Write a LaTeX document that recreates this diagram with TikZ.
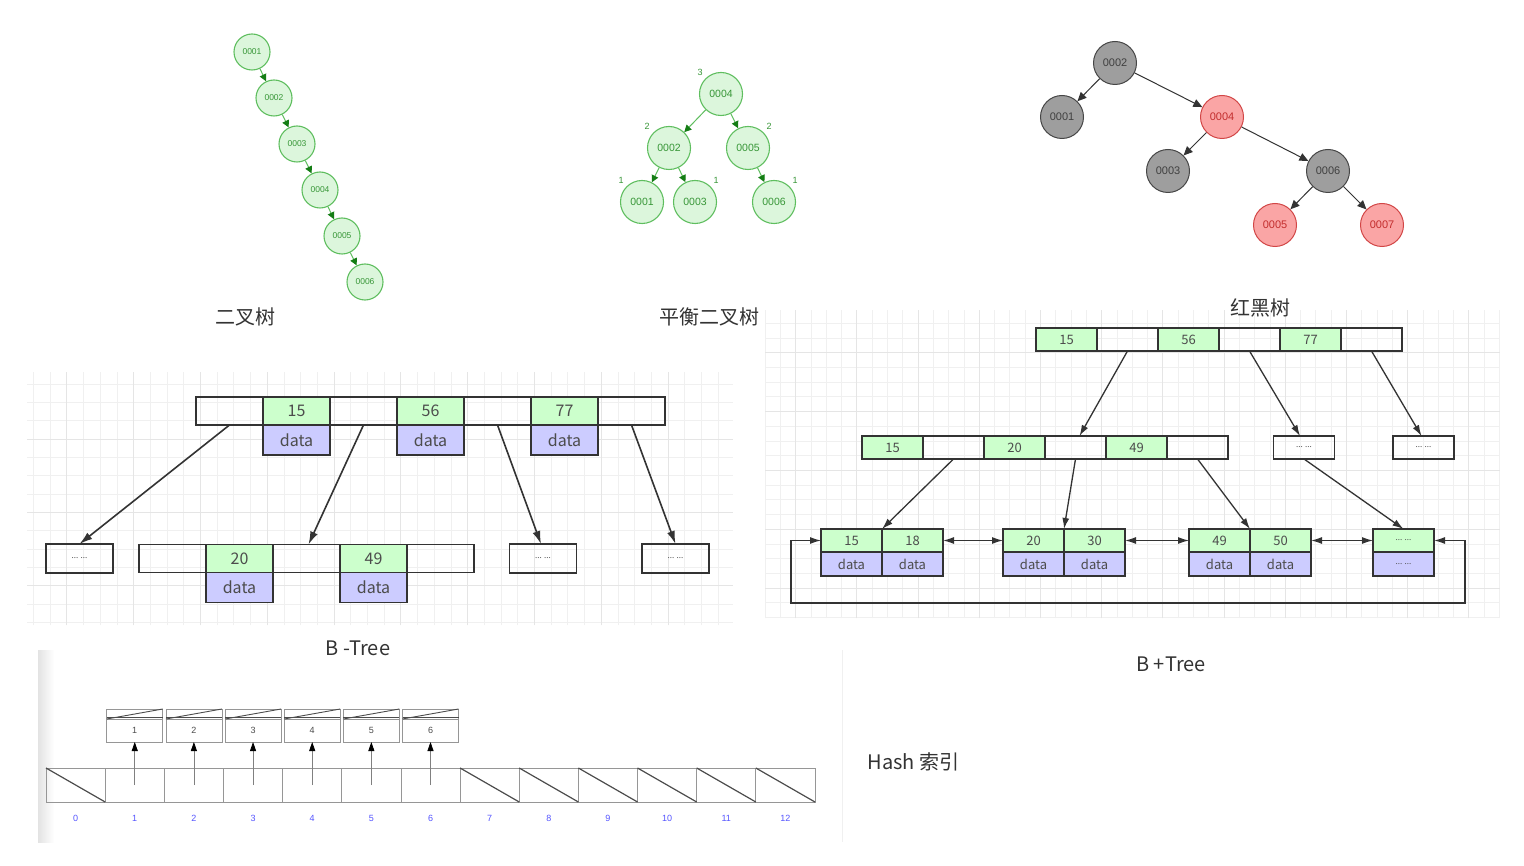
\documentclass[tikz,border=0pt]{standalone}
\usepackage{fontspec}
\setmainfont{Noto Sans CJK SC}
\newfontfamily\nodefont{Liberation Sans}
\usetikzlibrary{arrows.meta, positioning}
\definecolor{tGreen}{RGB}{220,246,220}
\definecolor{tGreenLine}{RGB}{95,190,95}
\definecolor{tGreenText}{RGB}{55,150,55}
\definecolor{tGreenArrow}{RGB}{20,125,20}
\definecolor{rbGray}{RGB}{158,158,158}
\definecolor{rbGrayLine}{RGB}{70,70,70}
\definecolor{rbRed}{RGB}{250,165,165}
\definecolor{rbRedLine}{RGB}{210,70,70}
\definecolor{rbRedText}{RGB}{195,45,45}
\definecolor{keyGreen}{RGB}{204,255,204}
\definecolor{dataBlue}{RGB}{204,204,255}
\definecolor{lineDark}{RGB}{51,51,51}
\definecolor{gridLight}{RGB}{240,240,240}
\definecolor{gridMajor}{RGB}{229,229,229}
\definecolor{hashLine}{RGB}{150,150,150}
\definecolor{hashBlue}{RGB}{85,85,255}

\begin{document}
\begin{tikzpicture}[
  x=1pt, y=-1pt,
  tnode/.style={circle, draw=tGreenLine, fill=tGreen, line width=1.1pt, inner sep=0pt,
                text=tGreenText},
  bnode/.style={tnode, minimum size=36pt, font=\nodefont\fontsize{8.5}{9}\selectfont},
  avlnode/.style={tnode, minimum size=43pt, font=\nodefont\fontsize{10.5}{11}\selectfont},
  hlabel/.style={text=tGreenText, font=\nodefont\fontsize{9}{9}\selectfont},
  garrow/.style={-{Triangle[length=7pt, width=7pt, color=tGreenArrow]}, draw=tGreenLine,
                 line width=1pt},
  rbblack/.style={circle, minimum size=43pt, inner sep=0pt, draw=rbGrayLine, fill=rbGray,
                  line width=1pt, text=black!75, font=\nodefont\fontsize{11}{11}\selectfont},
  rbred/.style={rbblack, draw=rbRedLine, fill=rbRed, text=rbRedText},
  karrow/.style={-{Triangle[length=9pt, width=8pt]}, draw=black!80, line width=1pt},
  title/.style={font=\fontsize{20}{21}\selectfont, text=black!80},
  gridline/.style={draw=gridLight, line width=0.8pt},
  gridbold/.style={draw=gridMajor, line width=1pt},
  bcell/.style={draw=lineDark, line width=1.6pt, minimum width=67pt, minimum height=28pt,
                inner sep=0pt, outer sep=0pt, text=black!70, font=\fontsize{16}{16}\selectfont},
  bkey/.style={bcell, fill=keyGreen},
  bdata/.style={bcell, fill=dataBlue, minimum height=30pt},
  bdots/.style={bcell, minimum height=29pt, font=\fontsize{8}{8}\selectfont},
  barrow/.style={-{Latex[length=13pt, width=8pt]}, draw=lineDark, line width=1.6pt},
  pcell/.style={draw=lineDark, line width=1.3pt, minimum width=61pt, minimum height=23pt,
                inner sep=0pt, outer sep=0pt, text=black!70, font=\fontsize{13}{13}\selectfont},
  pkey/.style={pcell, fill=keyGreen},
  pdata/.style={pcell, fill=dataBlue, minimum height=24pt},
  pdots/.style={pcell, font=\fontsize{8}{8}\selectfont},
  parrow/.style={-{Latex[length=11pt, width=7pt]}, draw=lineDark, line width=1.3pt},
  pboth/.style={{Latex[length=11pt, width=7pt]}-{Latex[length=11pt, width=7pt]},
                draw=lineDark, line width=1.3pt},
  hcell/.style={draw=hashLine, line width=0.8pt, minimum width=59.15pt, minimum height=34pt,
                inner sep=0pt, outer sep=0pt},
  hdiag/.style={draw=black!70, line width=1.2pt},
  hnum/.style={text=hashBlue, font=\nodefont\fontsize{9}{9}\selectfont},
  hbox/.style={draw=hashLine, line width=0.8pt, minimum width=56pt, minimum height=23pt,
               inner sep=0pt, outer sep=0pt, text=black!70, font=\nodefont\fontsize{9}{9}\selectfont},
  hstrip/.style={hbox, minimum height=10pt},
  harrow/.style={-{Triangle[length=9pt, width=6pt, color=black]}, draw=gray, line width=0.8pt},
]
  \fill[white] (0,0) rectangle (1524,866);
  \useasboundingbox (0,0) rectangle (1524,866);

  % background grids
  \draw[gridline, xstep=16.7pt, ystep=18.3pt] (27,625) grid (733,372);
  \draw[gridbold, xstep=66.8pt, ystep=73.2pt] (27,625) grid (733,372);
  \draw[gridline, xstep=15.3pt, ystep=14.7pt] (765,618) grid (1500,310);
  \draw[gridbold, xstep=61.2pt, ystep=58.8pt] (765,618) grid (1500,310);
  \shade[left color=gray!22, right color=white] (38,650) rectangle (54,842);
  \draw[gridLight, line width=0.8pt] (842,650) -- (842,842);

  % binary tree
  \node[bnode] (b1) at (252,52)  {0001};
  \node[bnode] (b2) at (274,98)  {0002};
  \node[bnode] (b3) at (297,144) {0003};
  \node[bnode] (b4) at (320,190) {0004};
  \node[bnode] (b5) at (342,236) {0005};
  \node[bnode] (b6) at (365,282) {0006};
  \foreach \a/\b in {b1/b2, b2/b3, b3/b4, b4/b5, b5/b6}
    \draw[garrow] (\a) -- (\b);

  % balanced tree
  \node[avlnode] (a4) at (721,94)  {0004};
  \node[avlnode] (a2) at (669,148) {0002};
  \node[avlnode] (a5) at (748,148) {0005};
  \node[avlnode] (a1) at (642,202) {0001};
  \node[avlnode] (a3) at (695,202) {0003};
  \node[avlnode] (a6) at (774,202) {0006};
  \foreach \a/\b in {a4/a2, a4/a5, a2/a1, a2/a3, a5/a6}
    \draw[garrow] (\a) -- (\b);
  \node[hlabel] (h4) at (700,72)  {3};
  \node[hlabel] (h2) at (647,126) {2};
  \node[hlabel] (h5) at (769,126) {2};
  \node[hlabel] (h1) at (621,180) {1};
  \node[hlabel] (h3) at (716,180) {1};
  \node[hlabel] (h6) at (795,180) {1};

  % red-black tree
  \node[rbblack] (r2) at (1115,63)  {0002};
  \node[rbblack] (r1) at (1062,117) {0001};
  \node[rbred]   (r4) at (1222,117) {0004};
  \node[rbblack] (r3) at (1168,171) {0003};
  \node[rbblack] (r6) at (1328,171) {0006};
  \node[rbred]   (r5) at (1275,225) {0005};
  \node[rbred]   (r7) at (1382,225) {0007};
  \foreach \a/\b in {r2/r1, r2/r4, r4/r3, r4/r6, r6/r5, r6/r7}
    \draw[karrow] (\a) -- (\b);

  % titles
  \node[title] (t1) at (245,317)  {二叉树};
  \node[title] (t2) at (709,317)  {平衡二叉树};
  \node[title] (t3) at (1260,308) {红黑树};
  \node[title] (t4) at (358,648)  {B -Tree};
  \node[title] (t5) at (1171,664) {B +Tree};
  \node[title, anchor=west] (t6) at (864,762) {Hash 索引};

  % B-Tree
  \node[bcell] (bt0) at (229.5,411) {};
  \node[bkey, right=0pt of bt0] (bt1) {15};
  \node[bcell, right=0pt of bt1] (bt2) {};
  \node[bkey, right=0pt of bt2] (bt3) {56};
  \node[bcell, right=0pt of bt3] (bt4) {};
  \node[bkey, right=0pt of bt4] (bt5) {77};
  \node[bcell, right=0pt of bt5] (bt6) {};
  \node[bdata, below=0pt of bt1] (bd1) {data};
  \node[bdata, below=0pt of bt3] (bd3) {data};
  \node[bdata, below=0pt of bt5] (bd5) {data};

  \node[bdots] (bl1) at (79.5,558.5) {... ...};
  \node[bcell] (bm0) at (172.5,558.5) {};
  \node[bkey, right=0pt of bm0] (bm1) {20};
  \node[bcell, right=0pt of bm1] (bm2) {};
  \node[bkey, right=0pt of bm2] (bm3) {49};
  \node[bcell, right=0pt of bm3] (bm4) {};
  \node[bdata, below=0pt of bm1] (bn1) {data};
  \node[bdata, below=0pt of bm3] (bn3) {data};
  \node[bdots] (bl2) at (543,558.5) {... ...};
  \node[bdots] (bl3) at (675.5,558.5) {... ...};

  \draw[barrow] (bt0.south) -- (bl1.north);
  \draw[barrow] (bt2.south) -- ([xshift=2pt]bm2.north);
  \draw[barrow] (bt4.south) -- ([xshift=-2pt]bl2.north);
  \draw[barrow] (bt6.south) -- (bl3.north);

  % B+Tree
  \node[pkey] (pt1) at (1066.5,339.5) {15};
  \node[pcell, right=0pt of pt1] (pt2) {};
  \node[pkey, right=0pt of pt2] (pt3) {56};
  \node[pcell, right=0pt of pt3] (pt4) {};
  \node[pkey, right=0pt of pt4] (pt5) {77};
  \node[pcell, right=0pt of pt5] (pt6) {};

  \node[pkey] (pm1) at (892.5,447.5) {15};
  \node[pcell, right=0pt of pm1] (pm2) {};
  \node[pkey, right=0pt of pm2] (pm3) {20};
  \node[pcell, right=0pt of pm3] (pm4) {};
  \node[pkey, right=0pt of pm4] (pm5) {49};
  \node[pcell, right=0pt of pm5] (pm6) {};
  \node[pdots] (pd1) at (1304,447.5) {... ...};
  \node[pdots] (pd2) at (1423.5,447.5) {... ...};

  \node[pkey] (pl1a) at (851.5,540.5) {15};
  \node[pkey, right=0pt of pl1a] (pl1b) {18};
  \node[pkey] (pl2a) at (1033.5,540.5) {20};
  \node[pkey, right=0pt of pl2a] (pl2b) {30};
  \node[pkey] (pl3a) at (1219.5,540.5) {49};
  \node[pkey, right=0pt of pl3a] (pl3b) {50};
  \node[pdots, fill=keyGreen] (pl4a) at (1403.5,540.5) {... ...};
  \node[pdata, below=0pt of pl1a] (pv1a) {data};
  \node[pdata, below=0pt of pl1b] (pv1b) {data};
  \node[pdata, below=0pt of pl2a] (pv2a) {data};
  \node[pdata, below=0pt of pl2b] (pv2b) {data};
  \node[pdata, below=0pt of pl3a] (pv3a) {data};
  \node[pdata, below=0pt of pl3b] (pv3b) {data};
  \node[pdata, below=0pt of pl4a, font=\fontsize{8}{8}\selectfont] (pv4a) {... ...};

  \draw[parrow] (pt2.south) -- ([xshift=4pt]pm4.north);
  \draw[parrow] (pt4.south) -- ([xshift=-4pt]pd1.north);
  \draw[parrow] (pt6.south) -- ([xshift=-2pt]pd2.north);
  \draw[parrow] (pm2.south) -- (pl1a.north east);
  \draw[parrow] (pm4.south) -- (pl2a.north east);
  \draw[parrow] (pm6.south) -- (pl3a.north east);
  \draw[parrow] (pd1.south) -- (pl4a.north);
  \draw[pboth] (pl1b.east) -- (pl2a.west);
  \draw[pboth] (pl2b.east) -- (pl3a.west);
  \draw[pboth] (pl3b.east) -- (pl4a.west);
  \coordinate (loopL) at (791,603);
  \coordinate (loopR) at (1465,603);
  \draw[pboth] (pl1a.west) -| (loopL) -- (loopR) |- (pl4a.east);

  % Hash index
  \foreach \i in {0,...,12} {
    \node[hcell] (hc\i) at ({75.6+59.15*\i},785) {};
    \node[hnum] (hl\i) at ({75.6+59.15*\i},818) {\i};
  }
  \foreach \i in {0,7,8,9,10,11,12}
    \draw[hdiag] (hc\i.north west) -- (hc\i.south east);
  \foreach \i in {1,...,6} {
    \node[hbox] (hb\i) at ({75.6+59.15*\i},730.5) {\i};
    \node[hstrip, above=0pt of hb\i] (hs\i) {};
    \draw[hdiag, line width=0.9pt] (hs\i.south west) -- (hs\i.north east);
    \draw[hdiag, line width=0.9pt] ([yshift=2pt]hs\i.south west) -- ([yshift=2pt]hs\i.south east);
    \draw[harrow] (hc\i.center) -- (hb\i.south);
  }
\end{tikzpicture}
\end{document}
